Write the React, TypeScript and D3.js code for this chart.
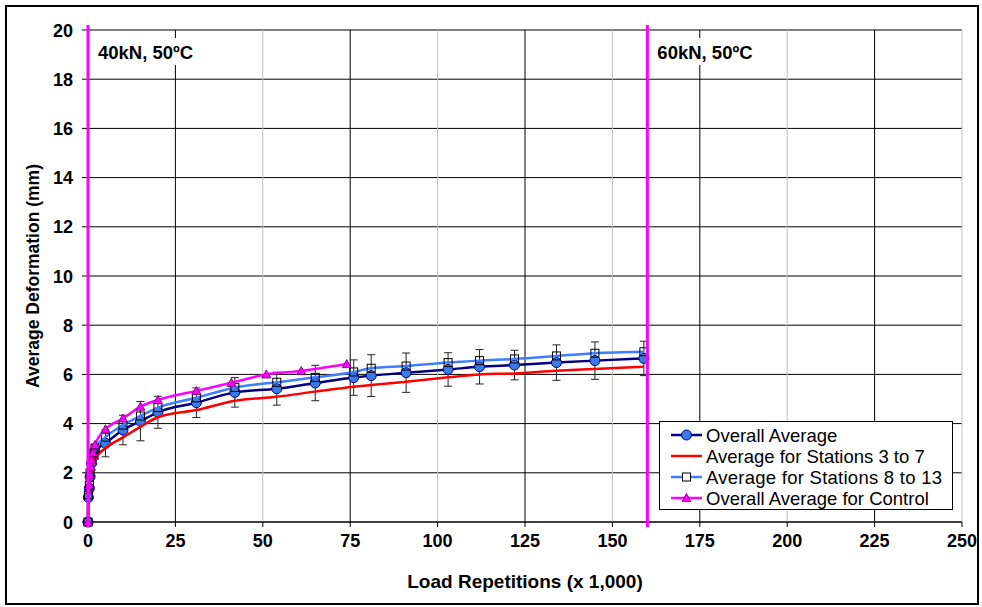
import React from "react";
import * as d3 from "d3";

// Overall Average (with error bars)
const overallX = [0, 0.1, 0.4, 0.6, 1, 1.5, 2, 5, 10, 15, 20, 31, 42, 54, 65, 76, 81, 91, 103, 112, 122, 134, 145, 159];
const overallY = [0, 1.0, 1.37, 1.84, 2.39, 2.65, 2.86, 3.2, 3.74, 4.1, 4.46, 4.85, 5.27, 5.42, 5.65, 5.87, 5.95, 6.07, 6.2, 6.31, 6.38, 6.48, 6.56, 6.65];
const overallErr = [0, 0.1, 0.15, 0.2, 0.25, 0.3, 0.3, 0.55, 0.6, 0.8, 0.65, 0.6, 0.6, 0.67, 0.72, 0.72, 0.85, 0.8, 0.68, 0.7, 0.6, 0.72, 0.76, 0.7];
// Average for Stations 3 to 7
const st37Y = [0, 0.9, 1.25, 1.65, 2.1, 2.35, 2.55, 3.0, 3.44, 3.87, 4.26, 4.55, 4.93, 5.09, 5.3, 5.5, 5.57, 5.7, 5.88, 6.0, 6.04, 6.15, 6.22, 6.31];
// Average for Stations 8 to 13
const st813Y = [0, 1.1, 1.5, 2.0, 2.55, 2.8, 3.0, 3.45, 3.94, 4.31, 4.65, 5.05, 5.47, 5.68, 5.88, 6.1, 6.25, 6.34, 6.48, 6.56, 6.63, 6.75, 6.86, 6.92];
// Overall Average for Control
const controlX = [0, 0.4, 0.6, 0.8, 1, 1.5, 2, 5, 10, 15, 20, 31, 41, 51, 61, 74];
const controlY = [0, 1.5, 1.91, 2.25, 2.52, 2.82, 3.13, 3.77, 4.21, 4.69, 4.96, 5.33, 5.66, 6.0, 6.14, 6.42];

const xTicks = [0, 25, 50, 75, 100, 125, 150, 175, 200, 225, 250];
const yTicks = [0, 2, 4, 6, 8, 10, 12, 14, 16, 18, 20];
const phaseX = [0, 160];
const phaseLabels = ["40kN, 50ºC", "60kN, 50ºC"];
const legendLabels = ["Overall Average", "Average for Stations 3 to 7", "Average for Stations 8 to 13", "Overall Average for Control"];

const W = 982, H = 607;
const M = { left: 88, right: 962, top: 30, bottom: 522 };
const FONT = "'Liberation Sans', Arial, sans-serif";

export default function App() {
  const x = d3.scaleLinear().domain([0, 250]).range([M.left, M.right]);
  const y = d3.scaleLinear().domain([0, 20]).range([M.bottom, M.top]);
  const line = d3.line<[number, number]>().x(d => x(d[0])).y(d => y(d[1])).curve(d3.curveMonotoneX);

  const overall = overallX.map((v, i) => [v, overallY[i]] as [number, number]);
  const s37 = overallX.map((v, i) => [v, st37Y[i]] as [number, number]);
  const s813 = overallX.map((v, i) => [v, st813Y[i]] as [number, number]);
  const ctrl = controlX.map((v, i) => [v, controlY[i]] as [number, number]);

  const tri = (cx: number, cy: number, s: number) =>
    `M${cx},${cy - s}L${cx + s},${cy + s * 0.8}L${cx - s},${cy + s * 0.8}Z`;

  const legX = 659.5, legY = 421.5, legW = 293, legH = 88;
  const rowY = [435, 456, 477, 498];

  return (
    <svg width={W} height={H} style={{ position: "absolute", left: 0, top: 0, background: "#fff" }} fontFamily={FONT}>
      <rect x={0} y={0} width={W} height={H} fill="#fff" />
      <rect x={6} y={6} width={972} height={598} fill="none" stroke="#000" strokeWidth={2} />

      {/* grid */}
      {yTicks.map(t => (
        <line key={"gy" + t} x1={M.left} x2={M.right} y1={y(t)} y2={y(t)} stroke="#000" strokeWidth={1} />
      ))}
      {xTicks.map((t, i) => (
        <line key={"gx" + t} x1={x(t)} x2={x(t)} y1={M.top} y2={M.bottom}
          stroke={i % 2 === 1 ? "#000" : "#c0c0c0"} strokeWidth={1} />
      ))}
      {/* axes */}
      <line x1={M.left} x2={M.left} y1={M.top} y2={M.bottom} stroke="#000" />
      <line x1={M.left} x2={M.right} y1={M.bottom} y2={M.bottom} stroke="#000" />
      {yTicks.map(t => (
        <g key={"ty" + t}>
          <line x1={M.left - 6} x2={M.left} y1={y(t)} y2={y(t)} stroke="#000" />
          <text x={73} y={y(t) + 6.5} textAnchor="end" fontSize={18} fontWeight="bold">{t}</text>
        </g>
      ))}
      {xTicks.map(t => (
        <g key={"tx" + t}>
          <line x1={x(t)} x2={x(t)} y1={M.bottom} y2={M.bottom + 5} stroke="#000" />
          <text x={x(t)} y={547} textAnchor="middle" fontSize={18} fontWeight="bold">{t}</text>
        </g>
      ))}
      <text x={(M.left + M.right) / 2} y={588} textAnchor="middle" fontSize={19} fontWeight="bold">Load Repetitions (x 1,000)</text>
      <text transform={`translate(39,${(M.top + M.bottom) / 2}) rotate(-90)`} textAnchor="middle" fontSize={17.5} fontWeight="bold">Average Deformation (mm)</text>

      {/* phase labels */}
      {phaseX.map((p, i) => (
        <g key={"ph" + i}>
          <rect x={x(p) + 7} y={38} width={114} height={27} fill="#fff" />
          <text x={x(p) + 10} y={59} fontSize={18.5} fontWeight="bold">{phaseLabels[i]}</text>
        </g>
      ))}

      {/* error bars */}
      {overall.map((d, i) => overallErr[i] > 0 && (
        <g key={"e" + i} stroke="#222" strokeWidth={1}>
          <line x1={x(d[0])} x2={x(d[0])} y1={y(d[1] - overallErr[i])} y2={y(d[1] + overallErr[i])} />
          <line x1={x(d[0]) - 4} x2={x(d[0]) + 4} y1={y(d[1] - overallErr[i])} y2={y(d[1] - overallErr[i])} />
          <line x1={x(d[0]) - 4} x2={x(d[0]) + 4} y1={y(d[1] + overallErr[i])} y2={y(d[1] + overallErr[i])} />
        </g>
      ))}

      {/* series */}
      <path d={line(overall) || ""} fill="none" stroke="#000080" strokeWidth={2.5} />
      {overall.map((d, i) => (
        <circle key={"c" + i} cx={x(d[0])} cy={y(d[1])} r={5} fill="#3a7be8" stroke="#000080" strokeWidth={1} />
      ))}
      <path d={line(s37) || ""} fill="none" stroke="#ff0000" strokeWidth={2.5} />
      <path d={line(s813) || ""} fill="none" stroke="#3d7eff" strokeWidth={2.5} />
      {s813.map((d, i) => (
        <rect key={"s" + i} x={x(d[0]) - 4} y={y(d[1]) - 4} width={8} height={8} fill="none" stroke="#000" strokeWidth={1} />
      ))}
      <path d={line(ctrl) || ""} fill="none" stroke="#ff00ff" strokeWidth={2.5} />
      {ctrl.map((d, i) => (
        <path key={"t" + i} d={tri(x(d[0]), y(d[1]), 4.5)} fill="#ff00ff" stroke="#660066" strokeWidth={0.8} />
      ))}

      {/* phase lines */}
      {phaseX.map((p, i) => (
        <line key={"pl" + i} x1={x(p)} x2={x(p)} y1={y(20.2)} y2={y(-0.2)} stroke="#ff00ff" strokeWidth={3} />
      ))}

      {/* legend */}
      <rect x={legX} y={legY} width={legW} height={legH} fill="#fff" stroke="#000" strokeWidth={1} />
      {legendLabels.map((l, i) => {
        const cy = rowY[i];
        const colors = ["#000080", "#ff0000", "#3d7eff", "#ff00ff"];
        return (
          <g key={"lg" + i}>
            <line x1={671} x2={702} y1={cy} y2={cy} stroke={colors[i]} strokeWidth={2.5} />
            {i === 0 && <circle cx={686.5} cy={cy} r={5} fill="#3a7be8" stroke="#000080" />}
            {i === 2 && <rect x={682.5} y={cy - 4} width={8} height={8} fill="#fff" stroke="#000" />}
            {i === 3 && <path d={tri(686.5, cy, 4.5)} fill="#ff00ff" stroke="#660066" strokeWidth={0.8} />}
            <text x={706} y={cy + 6.5} fontSize={18.5} textLength={i === 2 ? 236 : undefined}>{l}</text>
          </g>
        );
      })}
    </svg>
  );
}
